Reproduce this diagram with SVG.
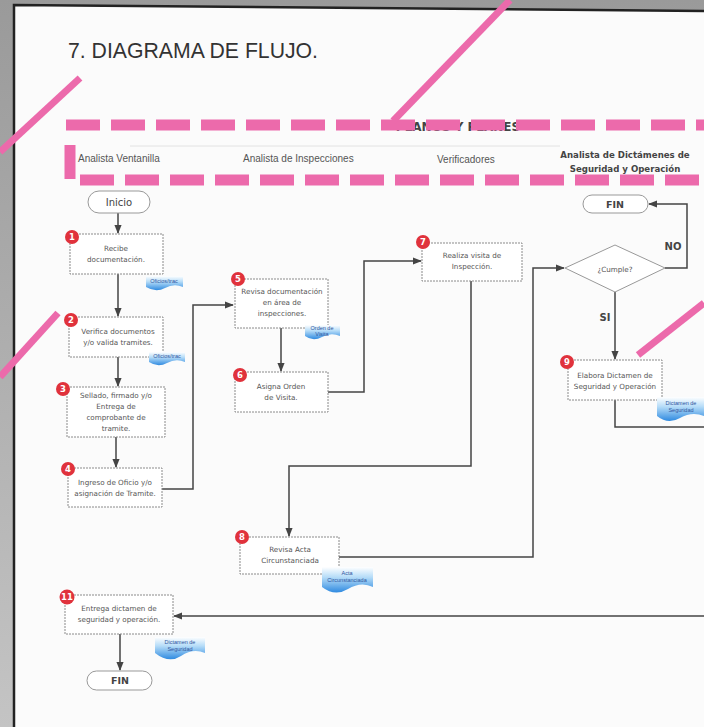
<svg xmlns="http://www.w3.org/2000/svg" width="704" height="727" viewBox="0 0 704 727">
<defs>
<linearGradient id="outer" x1="0" y1="0" x2="0" y2="1"><stop offset="0" stop-color="#9a9a9a"/><stop offset="1" stop-color="#c4c4c4"/></linearGradient>
<linearGradient id="docg" x1="0" y1="0" x2="0" y2="1"><stop offset="0" stop-color="#ffffff"/><stop offset="0.4" stop-color="#b5dcf8"/><stop offset="1" stop-color="#2f8ae0"/></linearGradient>
<marker id="ah" viewBox="0 0 10 10" refX="9" refY="5" markerWidth="6" markerHeight="6" orient="auto"><path d="M0,1 L10,5 L0,9 Z" fill="#444"/></marker>
<style>
.box{fill:#fff;stroke:#8a8a8a;stroke-width:1;stroke-dasharray:2 1}
.t{font-family:"DejaVu Sans",Verdana,sans-serif;font-size:7.2px;fill:#555;text-anchor:middle}
.lane{font-family:"Liberation Sans",Arial,sans-serif;font-size:10px;fill:#555}
.laneb{font-family:"DejaVu Sans",sans-serif;font-size:8.6px;font-weight:bold;fill:#444;text-anchor:middle}
.term{fill:#fff;stroke:#999;stroke-width:1}
.tt{font-family:"DejaVu Sans",sans-serif;font-size:10px;fill:#444;text-anchor:middle}
.ttb{font-family:"DejaVu Sans",sans-serif;font-size:9.5px;font-weight:bold;fill:#444;text-anchor:middle}
.bd{fill:#e0323c}
.bt{font-family:"DejaVu Sans",sans-serif;font-size:8.5px;font-weight:bold;fill:#fff;text-anchor:middle}
.doc{fill:url(#docg)}
.dt{font-family:"Liberation Sans",Arial,sans-serif;font-size:5.5px;fill:#2e55a0;text-anchor:middle}
.c{fill:none;stroke:#444;stroke-width:1.5}
.pink{stroke:#ec6aab;stroke-width:7;stroke-linecap:butt;fill:none}
.pd{stroke:#ec6aab;stroke-width:11;fill:none;stroke-dasharray:34 11}
.lbl{font-family:"DejaVu Sans",sans-serif;font-size:10px;font-weight:bold;fill:#444;text-anchor:middle}
</style>
</defs>
<rect width="704" height="727" fill="url(#outer)"/>
<polygon points="14,5 704,11 704,727 14,727" fill="#fbfbfb"/>
<path d="M14,727 V5 L704,11" fill="none" stroke="#222" stroke-width="2.5"/>
<text x="68" y="58" font-family="Liberation Sans, Arial, sans-serif" font-size="22" fill="#333" textLength="250" lengthAdjust="spacingAndGlyphs">7. DIAGRAMA DE FLUJO.</text>

<g id="header">
<text x="458" y="131" font-family="DejaVu Sans, sans-serif" font-size="12" font-weight="bold" fill="#444" text-anchor="middle">PLANOS Y PLANES</text>
<line x1="130" y1="146" x2="560" y2="146" stroke="#e2e2e2" stroke-width="1"/>
<text class="lane" x="78" y="162">Analista Ventanilla</text>
<text class="lane" x="243" y="162">Analista de Inspecciones</text>
<text class="lane" x="437" y="163">Verificadores</text>
<text class="laneb" x="625" y="158">Analista de Dictámenes de</text>
<text class="laneb" x="625" y="172">Seguridad y Operación</text>
<line class="pd" x1="66" y1="125" x2="704" y2="125"/>
<path class="pd" d="M70,145 V180 H704"/>
</g>

<g id="connectors">
<line class="c" x1="118" y1="213" x2="118" y2="233" marker-end="url(#ah)"/>
<line class="c" x1="118" y1="274" x2="118" y2="316" marker-end="url(#ah)"/>
<line class="c" x1="118" y1="357" x2="118" y2="386" marker-end="url(#ah)"/>
<line class="c" x1="116" y1="437" x2="116" y2="467" marker-end="url(#ah)"/>
<path class="c" d="M162,489 H193 V305 H233" marker-end="url(#ah)"/>
<line class="c" x1="281" y1="328" x2="281" y2="371" marker-end="url(#ah)"/>
<path class="c" d="M328,392 H364 V261 H421" marker-end="url(#ah)"/>
<path class="c" d="M471,281 V466 H289 V536" marker-end="url(#ah)"/>
<path class="c" d="M339,557 H533 V268 H564" marker-end="url(#ah)"/>
<path class="c" d="M665,268 H687 V204 H649" marker-end="url(#ah)"/>
<line class="c" x1="615" y1="292" x2="615" y2="359" marker-end="url(#ah)"/>
<path class="c" d="M615,400 V427 H704"/>
<line class="c" x1="704" y1="616" x2="174" y2="616" marker-end="url(#ah)"/>
<line class="c" x1="120" y1="634" x2="120" y2="670" marker-end="url(#ah)"/>
<text class="lbl" x="673" y="250">NO</text>
<text class="lbl" x="605" y="321">SI</text>
</g>

<g id="inicio">
<rect class="term" x="88" y="191" width="62" height="22" rx="11"/>
<text class="tt" x="119" y="206">Inicio</text>
</g>

<g id="n1">
<rect class="box" x="70" y="234" width="93" height="40"/>
<text class="t" x="116" y="251">Recibe</text>
<text class="t" x="116" y="262">documentación.</text>
<circle class="bd" cx="72" cy="237" r="7"/><text class="bt" x="72" y="240">1</text>
<path class="doc" d="M146,276 H183 V287 Q174,283 165,288 T146,287 Z"/>
<text class="dt" x="164" y="283">Oficios/trac</text>
</g>

<g id="n2">
<rect class="box" x="69" y="317" width="94" height="40"/>
<text class="t" x="118" y="334">Verifica documentos</text>
<text class="t" x="118" y="345">y/o valida tramites.</text>
<circle class="bd" cx="71" cy="320" r="7"/><text class="bt" x="71" y="323">2</text>
<path class="doc" d="M149,352 H185 V362 Q176,358 167,363 T149,362 Z"/>
<text class="dt" x="167" y="358">Oficios/trac</text>
</g>

<g id="n3">
<rect class="box" x="67" y="387" width="98" height="50"/>
<text class="t" x="116" y="398">Sellado, firmado y/o</text>
<text class="t" x="116" y="409">Entrega de</text>
<text class="t" x="116" y="420">comprobante de</text>
<text class="t" x="116" y="431">tramite.</text>
<circle class="bd" cx="63" cy="389" r="7"/><text class="bt" x="63" y="392">3</text>
</g>

<g id="n4">
<rect class="box" x="68" y="468" width="94" height="39"/>
<text class="t" x="115" y="485">Ingreso de Oficio y/o</text>
<text class="t" x="115" y="496">asignación de Tramite.</text>
<circle class="bd" cx="68" cy="469" r="7"/><text class="bt" x="68" y="472">4</text>
</g>

<g id="n5">
<rect class="box" x="235" y="279" width="93" height="49"/>
<text class="t" x="282" y="294">Revisa documentación</text>
<text class="t" x="282" y="305">en área de</text>
<text class="t" x="282" y="316">inspecciones.</text>
<circle class="bd" cx="238" cy="279" r="7"/><text class="bt" x="238" y="282">5</text>
<path class="doc" d="M305,325 H340 V336 Q331,332 322,337 T305,336 Z"/>
<text class="dt" x="322" y="330">Orden de</text>
<text class="dt" x="322" y="336">Visita</text>
</g>

<g id="n6">
<rect class="box" x="235" y="372" width="93" height="40"/>
<text class="t" x="281" y="389">Asigna Orden</text>
<text class="t" x="281" y="400">de Visita.</text>
<circle class="bd" cx="240" cy="375" r="7"/><text class="bt" x="240" y="378">6</text>
</g>

<g id="n7">
<rect class="box" x="422" y="243" width="100" height="38"/>
<text class="t" x="472" y="258">Realiza visita de</text>
<text class="t" x="472" y="269">Inspección.</text>
<circle class="bd" cx="423" cy="242" r="7"/><text class="bt" x="423" y="245">7</text>
</g>

<g id="n8">
<rect class="box" x="240" y="537" width="99" height="37"/>
<text class="t" x="290" y="552">Revisa Acta</text>
<text class="t" x="290" y="563">Circunstanciada</text>
<circle class="bd" cx="242" cy="537" r="7"/><text class="bt" x="242" y="540">8</text>
<path class="doc" d="M322,567 H373 V587 Q361,581 348,589 T322,587 Z"/>
<text class="dt" x="347" y="575">Acta</text>
<text class="dt" x="347" y="582">Circunstanciada</text>
</g>

<g id="cumple">
<polygon points="565,268 615,245 665,268 615,292" fill="#fff" stroke="#999" stroke-width="1"/>
<text class="t" x="615" y="272" font-size="8.5px">¿Cumple?</text>
</g>

<g id="fin1">
<rect class="term" x="583" y="195" width="65" height="18" rx="9"/>
<text class="ttb" x="615" y="208">FIN</text>
</g>

<g id="n9">
<rect class="box" x="568" y="360" width="94" height="40"/>
<text class="t" x="615" y="378">Elabora Dictamen de</text>
<text class="t" x="615" y="389">Seguridad y Operación</text>
<circle class="bd" cx="567" cy="362" r="7"/><text class="bt" x="567" y="365">9</text>
<path class="doc" d="M657,397 H704 V416 Q692,411 680,418 T657,416 Z"/>
<text class="dt" x="681" y="405">Dictamen de</text>
<text class="dt" x="681" y="412">Seguridad</text>
</g>

<g id="n11">
<rect class="box" x="65" y="595" width="108" height="39"/>
<text class="t" x="119" y="611">Entrega dictamen de</text>
<text class="t" x="119" y="622">seguridad y operación.</text>
<circle class="bd" cx="67" cy="597" r="7.5"/><text class="bt" x="67" y="600" font-size="7.5px">11</text>
<path class="doc" d="M155,637 H205 V653 Q193,648 181,656 T155,653 Z"/>
<text class="dt" x="180" y="644">Dictamen de</text>
<text class="dt" x="180" y="651">Seguridad</text>
</g>

<g id="fin2">
<rect class="term" x="87" y="671" width="65" height="19" rx="9.5"/>
<text class="ttb" x="120" y="684">FIN</text>
</g>

<g id="marks">
<line class="pink" x1="80" y1="78" x2="0" y2="152"/>
<line class="pink" x1="510" y1="0" x2="393" y2="121"/>
<line class="pink" x1="58" y1="313" x2="0" y2="377"/>
<line class="pink" x1="704" y1="303" x2="638" y2="355"/>
</g>
</svg>
